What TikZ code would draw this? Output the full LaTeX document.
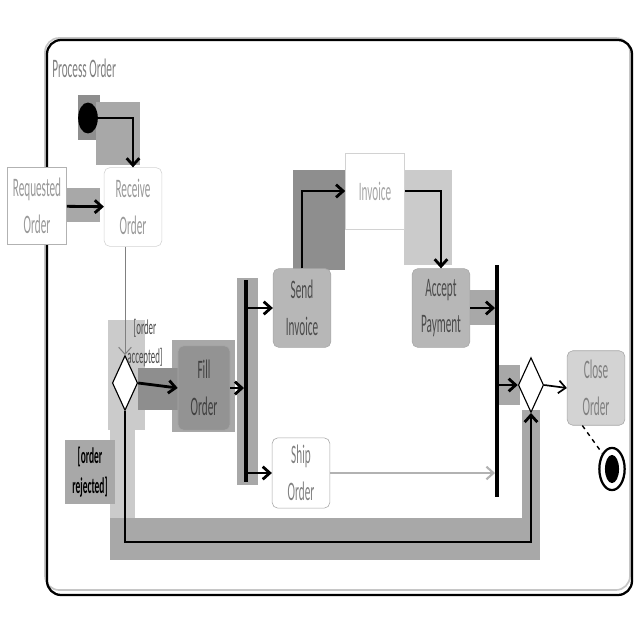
\documentclass[tikz,border=0pt]{standalone}
\usepackage{fontspec}
\usetikzlibrary{arrows.meta, positioning, shapes.geometric}
\newfontfamily\umlfont[FakeStretch=0.42]{Carlito}
\definecolor{mBandDark}{HTML}{8E8E8E}
\definecolor{mBandMid}{HTML}{A8A8A8}
\definecolor{mBandLight}{HTML}{CBCBCB}
\definecolor{mFillDark}{HTML}{939393}
\definecolor{mFillMid}{HTML}{B7B7B7}
\definecolor{mFillLight}{HTML}{D3D3D3}

\begin{document}
\begin{tikzpicture}[x=0.025cm, y=-0.025cm,
    every node/.style={font=\umlfont\fontsize{19}{26}\selectfont, align=center, inner sep=0pt},
    action/.style={draw=gray!70, rounded corners=4pt, minimum width=41pt, minimum height=56pt},
    objbox/.style={draw=gray!35, minimum width=42pt, minimum height=54pt},
    syncbar/.style={fill=black, minimum width=2.4pt, inner sep=0pt},
    choice/.style={diamond, draw, thick, aspect=0.5, minimum width=18pt, minimum height=39pt},
    flow/.style={-{Straight Barb[length=5pt, width=9pt]}, line width=2pt},
    thinflow/.style={-{Straight Barb[length=5pt, width=9pt]}, line width=0.7pt}]
    \useasboundingbox (0,0) rectangle (640,640);
    % Highlight bands
    \fill[mBandDark] (78,95) rectangle (100,140);
    \fill[mBandMid] (96,102) rectangle (140,165);
    \fill[mBandMid] (64,188) rectangle (100,222);
    \fill[mBandLight] (108,320) rectangle (145,430);
    \fill[mBandMid] (172,340) rectangle (235,432);
    \fill[mBandDark] (138,368) rectangle (178,410);
    \fill[mBandMid] (237,278) rectangle (258,485);
    \fill[mBandDark] (293,170) rectangle (345,270);
    \fill[mBandLight] (404,170) rectangle (452,265);
    \fill[mBandMid] (470,290) rectangle (497,325);
    \fill[mBandMid] (497,365) rectangle (520,405);
    \fill[mBandLight] (110,410) rectangle (135,560);
    \fill[mBandMid] (110,518) rectangle (540,560);
    \fill[mBandMid] (522,410) rectangle (540,548);
    % Frame
    \draw[gray!45, line width=1.2pt, rounded corners=10pt] (45,38) rectangle (630,590);
    \draw[line width=1.6pt, rounded corners=10pt] (47,40) rectangle (632,595);
    \node[anchor=west, text=gray] (title) at (52,68) {Process Order};
    % Nodes
    \node[ellipse, fill=black, minimum width=14pt, minimum height=22pt] (init) at (88,118) {};
    \node[objbox, draw=gray!60, fill=white, minimum height=55pt, text=gray!80] (req) at (37,206) {Requested\\Order};
    \node[action, draw=gray!35, fill=white, text=gray!80] (recv) at (133,207) {Receive\\Order};
    \node[choice, fill=white] (dec) at (125,383) {};
    \node[action, fill=mFillDark, minimum height=60pt, minimum width=37pt, text=black!75] (fill) at (204,388) {Fill\\Order};
    \node[syncbar, minimum height=143pt] (fork) at (246,381) {};
    \node[action, fill=mFillMid, text=black!70] (send) at (302,308) {Send\\Invoice};
    \node[action, fill=white, minimum height=50pt, text=gray] (ship) at (301,473) {Ship\\Order};
    \node[objbox, fill=white, text=gray!70] (inv) at (375,191) {Invoice};
    \node[action, fill=mFillMid, text=black!70] (acc) at (441,308) {Accept\\Payment};
    \node[syncbar, minimum height=165pt] (join) at (497,381) {};
    \node[choice, fill=white] (merge) at (531,385) {};
    \node[action, fill=mFillLight, minimum height=53pt, text=gray] (close) at (596,388) {Close\\Order};
    \node[ellipse, draw, line width=1.6pt, minimum width=18pt, minimum height=30pt] (final) at (612,469) {};
    \fill (final.center) ellipse (5pt and 10pt);
    % Guards
    \node[font=\umlfont\fontsize{15}{21}\selectfont, text=black!70, anchor=west] (acclbl) at (127,343) {[order\\accepted]};
    \node[fill=mBandMid, font=\umlfont\bfseries\fontsize{16}{21}\selectfont, minimum width=35pt, minimum height=46pt] (rejlbl) at (90,472) {[order\\rejected]};
    % Flows
    \draw[flow] (init.east) -| (recv.north);
    \draw[flow] (req) -- (recv);
    \draw[thinflow, gray] (dec.north |- recv.south) -- (dec.north);
    \draw[flow] (dec.east) -- (fill.west);
    \draw[flow] (fill.east) -- (fill.east -| fork.west);
    \draw[flow] (send.west -| fork.east) -- (send.west);
    \draw[flow] (ship.west -| fork.east) -- (ship.west);
    \draw[flow] (send.north) |- (inv.west);
    \draw[flow] (inv.east) -| (acc.north);
    \draw[flow] (acc.east) -- (acc.east -| join.west);
    \draw[thinflow, gray!60, line width=1.5pt] (ship.east) -- (ship.east -| join.west);
    \draw[flow] (merge.west -| join.east) -- (merge.west);
    \draw[flow, line width=1.2pt] (merge.east) -- (close.west);
    \draw[line width=1pt, dashed] (close.250) -- (final.north west);
    \coordinate (low) at (330,542);
    \draw[flow] (dec.south) |- (low) -| (merge.south);
\end{tikzpicture}
\end{document}
